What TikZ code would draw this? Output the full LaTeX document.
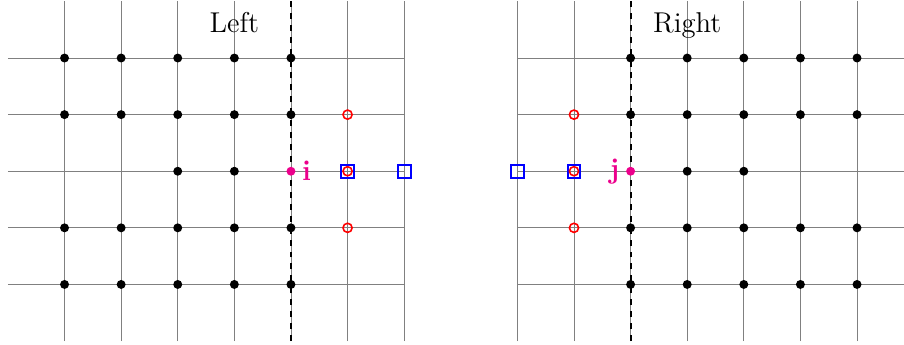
\documentclass[tikz,border=0pt]{standalone}
\usepackage{amsmath}
\usetikzlibrary{positioning}
\definecolor{pinkpt}{cmyk}{0,1,0,0}
\tikzset{
    gridline/.style = {draw=gray, line width=0.4pt},
    cutline/.style  = {draw=black, line width=1pt, dashed},
    dotpt/.style    = {circle, fill=black, inner sep=0pt, minimum size=4.5pt},
    seedpt/.style   = {circle, fill=pinkpt, inner sep=0pt, minimum size=4.5pt},
    ringpt/.style   = {circle, draw=red, line width=0.8pt, inner sep=0pt, minimum size=4.6pt},
    boxpt/.style    = {rectangle, draw=blue, line width=1pt, inner sep=0pt, minimum size=6.4pt},
    ptlabel/.style  = {text=pinkpt, font=\Large\bfseries, inner sep=2pt},
    title/.style    = {font=\Large, anchor=base}
}

\begin{document}
\begin{tikzpicture}
    \useasboundingbox (-0.14,-0.06) rectangle (15.83,6.025);

    % Left grid
    \foreach \y in {1,...,5} \draw[gridline] (0,\y) -- (7,\y);
    \foreach \x in {1,...,7} \draw[gridline] (\x,0) -- (\x,6);
    \draw[cutline] (5,0) -- (5,6);
    \node[title] (lefttitle) at (4,5.45) {Left};

    % Right grid
    \foreach \y in {1,...,5} \draw[gridline] (9,\y) -- (16,\y);
    \foreach \x in {9,...,15} \draw[gridline] (\x,0) -- (\x,6);
    \draw[cutline] (11,0) -- (11,6);
    \node[title] (righttitle) at (12,5.45) {Right};

    % Left points
    \foreach \x in {1,...,5} {
        \node[dotpt] (L-\x-5) at (\x,5) {};
        \node[dotpt] (L-\x-4) at (\x,4) {};
        \node[dotpt] (L-\x-2) at (\x,2) {};
        \node[dotpt] (L-\x-1) at (\x,1) {};
    }
    \foreach \x in {3,4} \node[dotpt] (L-\x-3) at (\x,3) {};
    \node[seedpt] (pi) at (5,3) {};
    \node[ptlabel, right=1pt of pi] (li) {i};
    \node[boxpt] (Lbox1) at (6,3) {};
    \node[boxpt] (Lbox2) at (7,3) {};
    \foreach \y in {2,3,4} \node[ringpt] (Lring-\y) at (6,\y) {};

    % Right points
    \foreach \x in {11,...,15} {
        \node[dotpt] (R-\x-5) at (\x,5) {};
        \node[dotpt] (R-\x-4) at (\x,4) {};
        \node[dotpt] (R-\x-2) at (\x,2) {};
        \node[dotpt] (R-\x-1) at (\x,1) {};
    }
    \foreach \x in {12,13} \node[dotpt] (R-\x-3) at (\x,3) {};
    \node[seedpt] (pj) at (11,3) {};
    \node[ptlabel, left=1pt of pj] (lj) {j};
    \node[boxpt] (Rbox1) at (9,3) {};
    \node[boxpt] (Rbox2) at (10,3) {};
    \foreach \y in {2,3,4} \node[ringpt] (Rring-\y) at (10,\y) {};

\end{tikzpicture}
\end{document}
